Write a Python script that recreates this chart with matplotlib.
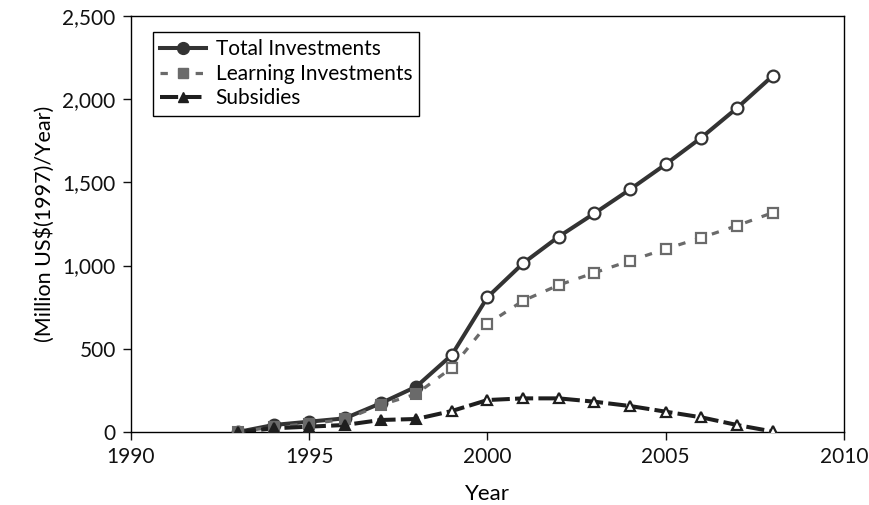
import matplotlib.pyplot as plt
import numpy as np

plt.rcParams['font.family'] = ['Lato', 'DejaVu Sans']

years = np.arange(1993, 2009)
total = [0, 42, 62, 82, 172, 272, 463, 810, 1014, 1174, 1314, 1458, 1609, 1769, 1947, 2140]
learning = [0, 30, 50, 75, 162, 228, 386, 649, 789, 883, 957, 1029, 1100, 1168, 1240, 1318]
subsidies = [0, 22, 32, 42, 72, 78, 126, 192, 202, 202, 182, 156, 122, 88, 42, 3]
n_filled = 6  # markers filled up to 1998, open afterwards

fig = plt.figure(figsize=(8.69, 5.05), dpi=100)
ax = fig.add_axes([0.1507, 0.1446, 0.8205, 0.8237])

series = [
    ("Total Investments", total, '#333333', 'o', '-', 2.9, 8.5),
    ("Learning Investments", learning, '#6a6a6a', 's', (0, (2.3, 3.2)), 2.3, 7),
    ("Subsidies", subsidies, '#1e1e1e', '^', (0, (4.5, 1.3)), 2.9, 7.5),
]

handles = []
for label, vals, col, mk, ls, lw, ms in series:
    vals = np.array(vals)
    ax.plot(years, vals, color=col, lw=lw, ls=ls, zorder=2)
    ax.plot(years[:n_filled], vals[:n_filled], ls='none', marker=mk, ms=ms,
            mfc=col, mec=col, mew=1.5, zorder=3)
    ax.plot(years[n_filled:], vals[n_filled:], ls='none', marker=mk, ms=ms,
            mfc='white', mec=col, mew=1.6, zorder=3)
    h, = ax.plot([], [], color=col, lw=lw, ls=ls, marker=mk, ms=ms, mfc=col, mec=col)
    handles.append((h, label))

ax.set_xlim(1990, 2010)
ax.set_ylim(0, 2500)
ax.set_xticks([1990, 1995, 2000, 2005, 2010])
ax.set_yticks([0, 500, 1000, 1500, 2000, 2500])
ax.set_yticklabels(['0', '500', '1,000', '1,500', '2,000', '2,500'])
ax.tick_params(labelsize=15, direction='out', length=6, width=1, colors='#111111', pad=5)
for s in ax.spines.values():
    s.set_linewidth(1.0)
ax.set_xlabel("Year", fontsize=16)
ax.set_ylabel("(Million US$(1997)/Year)", fontsize=15.5)
ax.xaxis.set_label_coords(0.5, -0.125)
ax.xaxis.label.set_va('top')
ax.yaxis.set_label_coords(-0.107, 0.5)

leg = ax.legend([h for h, _ in handles], [l for _, l in handles], loc='upper left',
                bbox_to_anchor=(0.031, 0.9615), borderaxespad=0, fontsize=15,
                fancybox=False, edgecolor='black', framealpha=1, handlelength=2.2,
                borderpad=0.35, labelspacing=0.22, handletextpad=0.45)
leg.get_frame().set_linewidth(1.0)

fig.savefig('out.png', dpi=100)
